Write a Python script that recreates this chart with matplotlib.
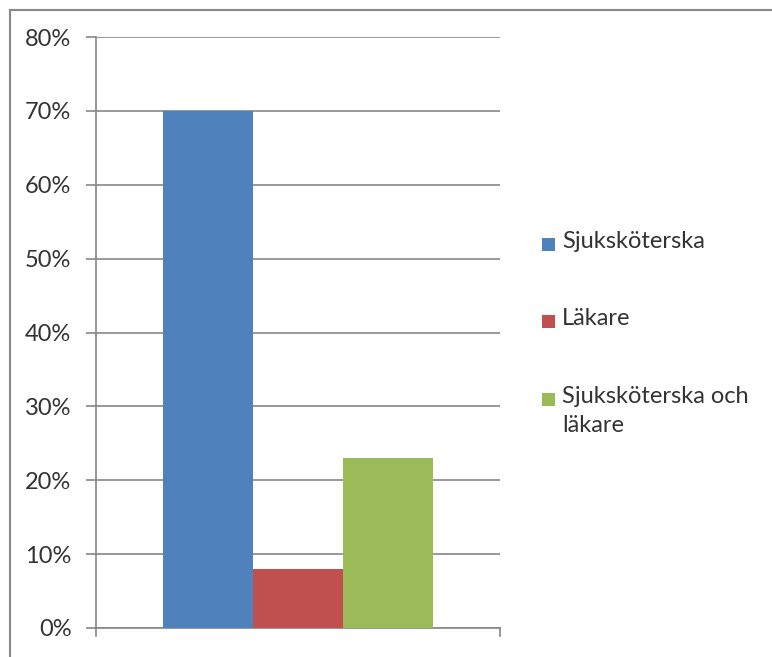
import matplotlib.pyplot as plt
from matplotlib.lines import Line2D
from matplotlib.patches import Rectangle
from matplotlib.ticker import PercentFormatter

# data
series = ["Sjuksköterska", "Läkare", "Sjuksköterska och\nläkare"]
values = [0.70, 0.08, 0.23]
colors = ["#4F81BD", "#C0504D", "#9BBB59"]
yticks = [0, 0.1, 0.2, 0.3, 0.4, 0.5, 0.6, 0.7, 0.8]

plt.rcParams['font.family'] = ['Lato', 'DejaVu Sans']
grid_col = "#868686"
txt_col = "#333333"

W, H = 772, 657
fig = plt.figure(figsize=(W / 100, H / 100), dpi=100)
ax = fig.add_axes([96 / W, 1 - 628 / H, 404 / W, 591 / H])

for i, (name, v, c) in enumerate(zip(series, values, colors)):
    ax.bar(i, v, width=1.0, color=c, label=name, zorder=3)

ax.set_xlim(-1.25, 3.25)
ax.set_ylim(0, 0.8)
ax.set_yticks(yticks)
ax.yaxis.set_major_formatter(PercentFormatter(1.0, decimals=0))
ax.set_xticks([])

ax.grid(axis="y", color=grid_col, linewidth=1.2, zorder=0)
for s in ["top", "right"]:
    ax.spines[s].set_visible(False)
for s in ["left", "bottom"]:
    ax.spines[s].set_color(grid_col)
    ax.spines[s].set_linewidth(1.2)
ax.tick_params(axis="y", length=7.2, color=grid_col, width=1.2, labelsize=17,
               labelcolor=txt_col, pad=10.5)

# little end ticks on the category axis
for xx in (-1.25, 3.25):
    ax.plot([xx, xx], [0, -0.011], color=grid_col, lw=1.2, clip_on=False)

# legend, laid out like the Excel one (handle on the first line)
leg_y = [243, 320, 398]
for name, c, yy in zip(series, colors, leg_y):
    fig.add_artist(Rectangle((542 / W, 1 - (yy + 8) / H), 13 / W, 13 / H,
                             facecolor=c, edgecolor="none",
                             transform=fig.transFigure))
    fig.text(562 / W, 1 - (yy - 12) / H, name, ha="left", va="top",
             fontsize=17, color=txt_col, linespacing=1.45)

# outer chart border (top and left)
fig.add_artist(Line2D([0.013, 1.0], [0.985, 0.985], color="#888888", lw=1.5))
fig.add_artist(Line2D([0.013, 0.013], [0.0, 0.985], color="#888888", lw=1.5))

fig.savefig("out.png", dpi=100)
